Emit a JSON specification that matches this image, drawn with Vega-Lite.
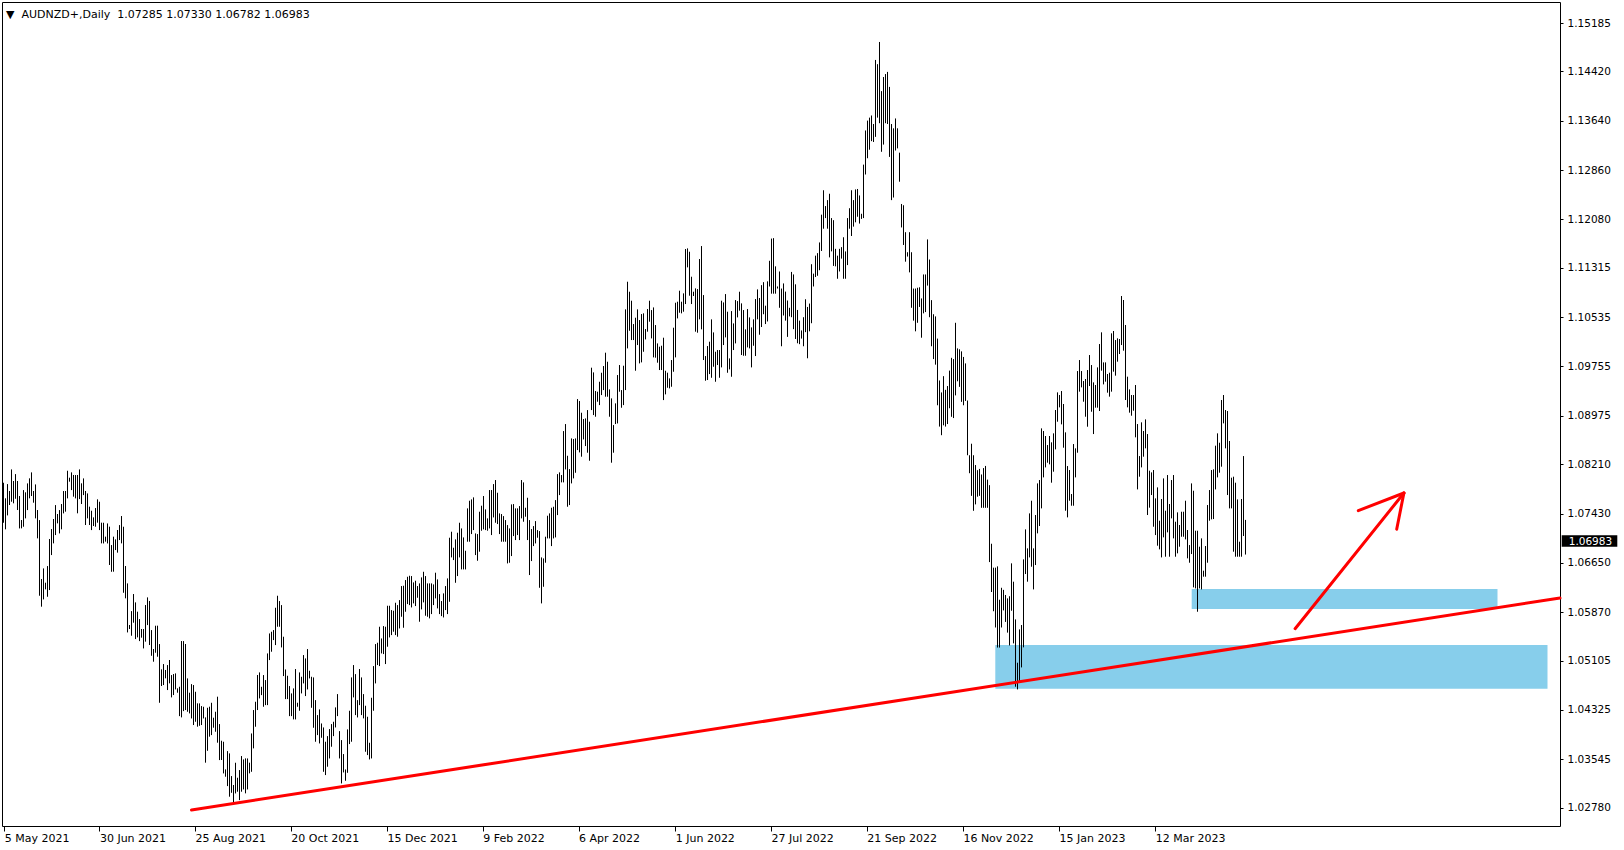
{
  "$schema": "https://vega.github.io/schema/vega-lite/v6.json",
  "width": 1558,
  "height": 824,
  "autosize": {"type": "none"},
  "padding": {"left": 2, "top": 2, "right": 64, "bottom": 24},
  "background": "#ffffff",
  "title": {"text": "▼\u00a0 AUDNZD+,Daily\u00a0 1.07285 1.07330 1.06782 1.06983", "anchor": "start", "frame": "group", "orient": "top", "offset": -27, "baseline": "alphabetic", "dx": 4, "fontSize": 11, "fontWeight": "normal", "font": "DejaVu Sans", "color": "#000000"},
  "config": {
    "view": {"stroke": "#000000", "strokeWidth": 1},
    "font": "DejaVu Sans",
    "axis": {"grid": false, "domain": false, "tickColor": "#000000", "labelColor": "#000000", "labelFont": "DejaVu Sans"}
  },
  "datasets": {
    "bars": [
      {"i":0,"h":1.07917,"l":1.07285},{"i":1,"h":1.07671,"l":1.07181},{"i":2,"h":1.07896,"l":1.07401},{"i":3,"h":1.07787,"l":1.07565},
      {"i":4,"h":1.08128,"l":1.07617},{"i":5,"h":1.07945,"l":1.07592},{"i":6,"h":1.08054,"l":1.07664},{"i":7,"h":1.07945,"l":1.07486},
      {"i":8,"h":1.07707,"l":1.07195},{"i":9,"h":1.07328,"l":1.07196},{"i":10,"h":1.07801,"l":1.07222},{"i":11,"h":1.07766,"l":1.07354},
      {"i":12,"h":1.07907,"l":1.07485},{"i":13,"h":1.07987,"l":1.07671},{"i":14,"h":1.08081,"l":1.07707},{"i":15,"h":1.07787,"l":1.07602},
      {"i":16,"h":1.07891,"l":1.07354},{"i":17,"h":1.07486,"l":1.07038},{"i":18,"h":1.07327,"l":1.06131},{"i":19,"h":1.06395,"l":1.05958},
      {"i":20,"h":1.06563,"l":1.06073},{"i":21,"h":1.06337,"l":1.06232},{"i":22,"h":1.06600,"l":1.06115},{"i":23,"h":1.07028,"l":1.06221},
      {"i":24,"h":1.07185,"l":1.06774},{"i":25,"h":1.07344,"l":1.06959},{"i":26,"h":1.07564,"l":1.07090},{"i":27,"h":1.07423,"l":1.07275},
      {"i":28,"h":1.07485,"l":1.07116},{"i":29,"h":1.07581,"l":1.07181},{"i":30,"h":1.07786,"l":1.07433},{"i":31,"h":1.07787,"l":1.07460},
      {"i":32,"h":1.08107,"l":1.07670},{"i":33,"h":1.07997,"l":1.07934},{"i":34,"h":1.08081,"l":1.07801},{"i":35,"h":1.08040,"l":1.07697},
      {"i":36,"h":1.08039,"l":1.07670},{"i":37,"h":1.08040,"l":1.07434},{"i":38,"h":1.08128,"l":1.07659},{"i":39,"h":1.07908,"l":1.07581},
      {"i":40,"h":1.07986,"l":1.07722},{"i":41,"h":1.07787,"l":1.07249},{"i":42,"h":1.07749,"l":1.07354},{"i":43,"h":1.07539,"l":1.07249},
      {"i":44,"h":1.07475,"l":1.07169},{"i":45,"h":1.07370,"l":1.07233},{"i":46,"h":1.07517,"l":1.07222},{"i":47,"h":1.07655,"l":1.07286},
      {"i":48,"h":1.07617,"l":1.07169},{"i":49,"h":1.07286,"l":1.06959},{"i":50,"h":1.07285,"l":1.06958},{"i":51,"h":1.07065,"l":1.06986},
      {"i":52,"h":1.07274,"l":1.06958},{"i":53,"h":1.07223,"l":1.06617},{"i":54,"h":1.06932,"l":1.06510},{"i":55,"h":1.07065,"l":1.06511},
      {"i":56,"h":1.07022,"l":1.06853},{"i":57,"h":1.07170,"l":1.06812},{"i":58,"h":1.07248,"l":1.07011},{"i":59,"h":1.07391,"l":1.06959},
      {"i":60,"h":1.07222,"l":1.06178},{"i":61,"h":1.06601,"l":1.06090},{"i":62,"h":1.06326,"l":1.05551},{"i":63,"h":1.05668,"l":1.05605},
      {"i":64,"h":1.05888,"l":1.05499},{"i":65,"h":1.06158,"l":1.05705},{"i":66,"h":1.06026,"l":1.05446},{"i":67,"h":1.05879,"l":1.05473},
      {"i":68,"h":1.05762,"l":1.05414},{"i":69,"h":1.05605,"l":1.05468},{"i":70,"h":1.05604,"l":1.05298},{"i":71,"h":1.05984,"l":1.05405},
      {"i":72,"h":1.06105,"l":1.05667},{"i":73,"h":1.06048,"l":1.05352},{"i":74,"h":1.05588,"l":1.05182},{"i":75,"h":1.05289,"l":1.05088},
      {"i":76,"h":1.05657,"l":1.05230},{"i":77,"h":1.05658,"l":1.05167},{"i":78,"h":1.05367,"l":1.04439},{"i":79,"h":1.04967,"l":1.04704},
      {"i":80,"h":1.05051,"l":1.04719},{"i":81,"h":1.04957,"l":1.04825},{"i":82,"h":1.05035,"l":1.04640},{"i":83,"h":1.05115,"l":1.04746},
      {"i":84,"h":1.04877,"l":1.04524},{"i":85,"h":1.04893,"l":1.04561},{"i":86,"h":1.04903,"l":1.04650},{"i":87,"h":1.04667,"l":1.04598},
      {"i":88,"h":1.04692,"l":1.04228},{"i":89,"h":1.05415,"l":1.04208},{"i":90,"h":1.05414,"l":1.04307},{"i":91,"h":1.05368,"l":1.04324},
      {"i":92,"h":1.04824,"l":1.04297},{"i":93,"h":1.04598,"l":1.04271},{"i":94,"h":1.04734,"l":1.04191},{"i":95,"h":1.04719,"l":1.04087},
      {"i":96,"h":1.04613,"l":1.04139},{"i":97,"h":1.04430,"l":1.04061},{"i":98,"h":1.04429,"l":1.04075},{"i":99,"h":1.04387,"l":1.04087},
      {"i":100,"h":1.04376,"l":1.04191},{"i":101,"h":1.04208,"l":1.03492},{"i":102,"h":1.04360,"l":1.03680},{"i":103,"h":1.04377,"l":1.03903},
      {"i":104,"h":1.04439,"l":1.03928},{"i":105,"h":1.04203,"l":1.04045},{"i":106,"h":1.04297,"l":1.03981},{"i":107,"h":1.04535,"l":1.03808},
      {"i":108,"h":1.04102,"l":1.03533},{"i":109,"h":1.03839,"l":1.03534},{"i":110,"h":1.03823,"l":1.03322},{"i":111,"h":1.03386,"l":1.03270},
      {"i":112,"h":1.03675,"l":1.03122},{"i":113,"h":1.03639,"l":1.02954},{"i":114,"h":1.03280,"l":1.03016},{"i":115,"h":1.03139,"l":1.02849},
      {"i":116,"h":1.03491,"l":1.03006},{"i":117,"h":1.03254,"l":1.03033},{"i":118,"h":1.03375,"l":1.02900},{"i":119,"h":1.03597,"l":1.03033},
      {"i":120,"h":1.03543,"l":1.03069},{"i":121,"h":1.03560,"l":1.03007},{"i":122,"h":1.03559,"l":1.03069},{"i":123,"h":1.03492,"l":1.03323},
      {"i":124,"h":1.03954,"l":1.03348},{"i":125,"h":1.04324,"l":1.03718},{"i":126,"h":1.04455,"l":1.04060},{"i":127,"h":1.04878,"l":1.04324},
      {"i":128,"h":1.04919,"l":1.04508},{"i":129,"h":1.04692,"l":1.04560},{"i":130,"h":1.04877,"l":1.04376},{"i":131,"h":1.04798,"l":1.04402},
      {"i":132,"h":1.05219,"l":1.04402},{"i":133,"h":1.05535,"l":1.05114},{"i":134,"h":1.05562,"l":1.05246},{"i":135,"h":1.05588,"l":1.05430},
      {"i":136,"h":1.05941,"l":1.05351},{"i":137,"h":1.06131,"l":1.05641},{"i":138,"h":1.06047,"l":1.05641},{"i":139,"h":1.05983,"l":1.05314},
      {"i":140,"h":1.05483,"l":1.04861},{"i":141,"h":1.04966,"l":1.04497},{"i":142,"h":1.04866,"l":1.04497},{"i":143,"h":1.04703,"l":1.04228},
      {"i":144,"h":1.04587,"l":1.04228},{"i":145,"h":1.04666,"l":1.04176},{"i":146,"h":1.04972,"l":1.04176},{"i":147,"h":1.04439,"l":1.04376},
      {"i":148,"h":1.04919,"l":1.04313},{"i":149,"h":1.04850,"l":1.04587},{"i":150,"h":1.05193,"l":1.04745},{"i":151,"h":1.05140,"l":1.04545},
      {"i":152,"h":1.05288,"l":1.04650},{"i":153,"h":1.04945,"l":1.04824},{"i":154,"h":1.04850,"l":1.04360},{"i":155,"h":1.04840,"l":1.04044},
      {"i":156,"h":1.04481,"l":1.03823},{"i":157,"h":1.04244,"l":1.03928},{"i":158,"h":1.04334,"l":1.03796},{"i":159,"h":1.04112,"l":1.03886},
      {"i":160,"h":1.04049,"l":1.03348},{"i":161,"h":1.03823,"l":1.03296},{"i":162,"h":1.03912,"l":1.03428},{"i":163,"h":1.04023,"l":1.03559},
      {"i":164,"h":1.04102,"l":1.03744},{"i":165,"h":1.04139,"l":1.03912},{"i":166,"h":1.04366,"l":1.04049},{"i":167,"h":1.04576,"l":1.04228},
      {"i":168,"h":1.03991,"l":1.03559},{"i":169,"h":1.03849,"l":1.03164},{"i":170,"h":1.03628,"l":1.03338},{"i":171,"h":1.03385,"l":1.03206},
      {"i":172,"h":1.04018,"l":1.03332},{"i":173,"h":1.04313,"l":1.03786},{"i":174,"h":1.04840,"l":1.03823},{"i":175,"h":1.05035,"l":1.04524},
      {"i":176,"h":1.04892,"l":1.04244},{"i":177,"h":1.04481,"l":1.04207},{"i":178,"h":1.04972,"l":1.04402},{"i":179,"h":1.04840,"l":1.04244},
      {"i":180,"h":1.04576,"l":1.04192},{"i":181,"h":1.04392,"l":1.03665},{"i":182,"h":1.04218,"l":1.03612},{"i":183,"h":1.03807,"l":1.03543},
      {"i":184,"h":1.04518,"l":1.03559},{"i":185,"h":1.05019,"l":1.04313},{"i":186,"h":1.05367,"l":1.04745},{"i":187,"h":1.05388,"l":1.05035},
      {"i":188,"h":1.05641,"l":1.05019},{"i":189,"h":1.05456,"l":1.05219},{"i":190,"h":1.05651,"l":1.05209},{"i":191,"h":1.05641,"l":1.05051},
      {"i":192,"h":1.05973,"l":1.05325},{"i":193,"h":1.05973,"l":1.05472},{"i":194,"h":1.05904,"l":1.05509},{"i":195,"h":1.05894,"l":1.05562},
      {"i":196,"h":1.06020,"l":1.05509},{"i":197,"h":1.05983,"l":1.05483},{"i":198,"h":1.06062,"l":1.05614},{"i":199,"h":1.06284,"l":1.05799},
      {"i":200,"h":1.06289,"l":1.05625},{"i":201,"h":1.06379,"l":1.05878},{"i":202,"h":1.06431,"l":1.05999},{"i":203,"h":1.06447,"l":1.05983},
      {"i":204,"h":1.06442,"l":1.05946},{"i":205,"h":1.06342,"l":1.06010},{"i":206,"h":1.06368,"l":1.05968},{"i":207,"h":1.06284,"l":1.06099},
      {"i":208,"h":1.06326,"l":1.05720},{"i":209,"h":1.06421,"l":1.05915},{"i":210,"h":1.06510,"l":1.06026},{"i":211,"h":1.06442,"l":1.05815},
      {"i":212,"h":1.06326,"l":1.05799},{"i":213,"h":1.06326,"l":1.05773},{"i":214,"h":1.06326,"l":1.05841},{"i":215,"h":1.06310,"l":1.05983},
      {"i":216,"h":1.06495,"l":1.06089},{"i":217,"h":1.06389,"l":1.05931},{"i":218,"h":1.06157,"l":1.05841},{"i":219,"h":1.06047,"l":1.05809},
      {"i":220,"h":1.06168,"l":1.05788},{"i":221,"h":1.06284,"l":1.05904},{"i":222,"h":1.06405,"l":1.05841},{"i":223,"h":1.07048,"l":1.06036},
      {"i":224,"h":1.07143,"l":1.06737},{"i":225,"h":1.06890,"l":1.06695},{"i":226,"h":1.07022,"l":1.06336},{"i":227,"h":1.07127,"l":1.06442},
      {"i":228,"h":1.07285,"l":1.06737},{"i":229,"h":1.07195,"l":1.06547},{"i":230,"h":1.07053,"l":1.06547},{"i":231,"h":1.06842,"l":1.06547},
      {"i":232,"h":1.07512,"l":1.06985},{"i":233,"h":1.07633,"l":1.06985},{"i":234,"h":1.07654,"l":1.07106},{"i":235,"h":1.07686,"l":1.07169},
      {"i":236,"h":1.07116,"l":1.06774},{"i":237,"h":1.07106,"l":1.06684},{"i":238,"h":1.07459,"l":1.06827},{"i":239,"h":1.07554,"l":1.07159},
      {"i":240,"h":1.07707,"l":1.07180},{"i":241,"h":1.07496,"l":1.07169},{"i":242,"h":1.07354,"l":1.07159},{"i":243,"h":1.07802,"l":1.07195},
      {"i":244,"h":1.07802,"l":1.07090},{"i":245,"h":1.07896,"l":1.07369},{"i":246,"h":1.07960,"l":1.07285},{"i":247,"h":1.07759,"l":1.07264},
      {"i":248,"h":1.07433,"l":1.07106},{"i":249,"h":1.07422,"l":1.06985},{"i":250,"h":1.07390,"l":1.06985},{"i":251,"h":1.07327,"l":1.06985},
      {"i":252,"h":1.07248,"l":1.06642},{"i":253,"h":1.07195,"l":1.06653},{"i":254,"h":1.07575,"l":1.06758},{"i":255,"h":1.07580,"l":1.07074},
      {"i":256,"h":1.07512,"l":1.07011},{"i":257,"h":1.07512,"l":1.07090},{"i":258,"h":1.07548,"l":1.07011},{"i":259,"h":1.07960,"l":1.07354},
      {"i":260,"h":1.07923,"l":1.07301},{"i":261,"h":1.07522,"l":1.07380},{"i":262,"h":1.07680,"l":1.07011},{"i":263,"h":1.07327,"l":1.06458},
      {"i":264,"h":1.07185,"l":1.06679},{"i":265,"h":1.07232,"l":1.06916},{"i":266,"h":1.07311,"l":1.06958},{"i":267,"h":1.07169,"l":1.07048},
      {"i":268,"h":1.07153,"l":1.06257},{"i":269,"h":1.06737,"l":1.06010},{"i":270,"h":1.06721,"l":1.06273},{"i":271,"h":1.07064,"l":1.06653},
      {"i":272,"h":1.07396,"l":1.07037},{"i":273,"h":1.07433,"l":1.07037},{"i":274,"h":1.07522,"l":1.06916},{"i":275,"h":1.07538,"l":1.07037},
      {"i":276,"h":1.07643,"l":1.07053},{"i":277,"h":1.08054,"l":1.07406},{"i":278,"h":1.08081,"l":1.07722},{"i":279,"h":1.08039,"l":1.07923},
      {"i":280,"h":1.08734,"l":1.07923},{"i":281,"h":1.08845,"l":1.08128},{"i":282,"h":1.08344,"l":1.07538},{"i":283,"h":1.08133,"l":1.07564},
      {"i":284,"h":1.08618,"l":1.07907},{"i":285,"h":1.08608,"l":1.07986},{"i":286,"h":1.08618,"l":1.08075},{"i":287,"h":1.09240,"l":1.08434},
      {"i":288,"h":1.09209,"l":1.08397},{"i":289,"h":1.09024,"l":1.08329},{"i":290,"h":1.08924,"l":1.08602},{"i":291,"h":1.08934,"l":1.08497},
      {"i":292,"h":1.09066,"l":1.08392},{"i":293,"h":1.08882,"l":1.08265},{"i":294,"h":1.09736,"l":1.09066},{"i":295,"h":1.09662,"l":1.08987},
      {"i":296,"h":1.09367,"l":1.08961},{"i":297,"h":1.09356,"l":1.09198},{"i":298,"h":1.09514,"l":1.09145},{"i":299,"h":1.09656,"l":1.09303},
      {"i":300,"h":1.09762,"l":1.09382},{"i":301,"h":1.09973,"l":1.09277},{"i":302,"h":1.09830,"l":1.09277},{"i":303,"h":1.09393,"l":1.08961},
      {"i":304,"h":1.09251,"l":1.08234},{"i":305,"h":1.08829,"l":1.08392},{"i":306,"h":1.09172,"l":1.08845},{"i":307,"h":1.09620,"l":1.08855},
      {"i":308,"h":1.09778,"l":1.09356},{"i":309,"h":1.09382,"l":1.09103},{"i":310,"h":1.09767,"l":1.09145},{"i":311,"h":1.10658,"l":1.09382},
      {"i":312,"h":1.11095,"l":1.10041},{"i":313,"h":1.10937,"l":1.10320},{"i":314,"h":1.10795,"l":1.10173},{"i":315,"h":1.10426,"l":1.10173},
      {"i":316,"h":1.10526,"l":1.09688},{"i":317,"h":1.10658,"l":1.10094},{"i":318,"h":1.10489,"l":1.09804},{"i":319,"h":1.10584,"l":1.09820},
      {"i":320,"h":1.10595,"l":1.09988},{"i":321,"h":1.10347,"l":1.10183},{"i":322,"h":1.10663,"l":1.10305},{"i":323,"h":1.10795,"l":1.10463},
      {"i":324,"h":1.10647,"l":1.10199},{"i":325,"h":1.10689,"l":1.09899},{"i":326,"h":1.10410,"l":1.09894},{"i":327,"h":1.10120,"l":1.09815},
      {"i":328,"h":1.10068,"l":1.09699},{"i":329,"h":1.10083,"l":1.09699},{"i":330,"h":1.10210,"l":1.09224},{"i":331,"h":1.09688,"l":1.09314},
      {"i":332,"h":1.09657,"l":1.09419},{"i":333,"h":1.09567,"l":1.09409},{"i":334,"h":1.09857,"l":1.09435},{"i":335,"h":1.10368,"l":1.09672},
      {"i":336,"h":1.10763,"l":1.09899},{"i":337,"h":1.10779,"l":1.10515},{"i":338,"h":1.10953,"l":1.10605},{"i":339,"h":1.10779,"l":1.10595},
      {"i":340,"h":1.10911,"l":1.10621},{"i":341,"h":1.11612,"l":1.10742},{"i":342,"h":1.11622,"l":1.11322},{"i":343,"h":1.11569,"l":1.10874},
      {"i":344,"h":1.11174,"l":1.10742},{"i":345,"h":1.10937,"l":1.10869},{"i":346,"h":1.10990,"l":1.10305},{"i":347,"h":1.10979,"l":1.10289},
      {"i":348,"h":1.11454,"l":1.10500},{"i":349,"h":1.11659,"l":1.10342},{"i":350,"h":1.10884,"l":1.09857},{"i":351,"h":1.09920,"l":1.09530},
      {"i":352,"h":1.10078,"l":1.09541},{"i":353,"h":1.10147,"l":1.09635},{"i":354,"h":1.10500,"l":1.09577},{"i":355,"h":1.10294,"l":1.09751},
      {"i":356,"h":1.09988,"l":1.09514},{"i":357,"h":1.10015,"l":1.09778},{"i":358,"h":1.10015,"l":1.09577},{"i":359,"h":1.10795,"l":1.09741},
      {"i":360,"h":1.10768,"l":1.10094},{"i":361,"h":1.10900,"l":1.10215},{"i":362,"h":1.10621,"l":1.09656},{"i":363,"h":1.09883,"l":1.09709},
      {"i":364,"h":1.10631,"l":1.09593},{"i":365,"h":1.10436,"l":1.10015},{"i":366,"h":1.10805,"l":1.10120},{"i":367,"h":1.10789,"l":1.10531},
      {"i":368,"h":1.10937,"l":1.10637},{"i":369,"h":1.10753,"l":1.09936},{"i":370,"h":1.10647,"l":1.09925},{"i":371,"h":1.10342,"l":1.09925},
      {"i":372,"h":1.10663,"l":1.10057},{"i":373,"h":1.10531,"l":1.10041},{"i":374,"h":1.10373,"l":1.09741},{"i":375,"h":1.10500,"l":1.10083},
      {"i":376,"h":1.10821,"l":1.09920},{"i":377,"h":1.10974,"l":1.10500},{"i":378,"h":1.10838,"l":1.10257},{"i":379,"h":1.11041,"l":1.10379},
      {"i":380,"h":1.11088,"l":1.10581},{"i":381,"h":1.10716,"l":1.10426},{"i":382,"h":1.11101,"l":1.10467},{"i":383,"h":1.11426,"l":1.11020},
      {"i":384,"h":1.11777,"l":1.10906},{"i":385,"h":1.11784,"l":1.10906},{"i":386,"h":1.11338,"l":1.10906},{"i":387,"h":1.11020,"l":1.10987},
      {"i":388,"h":1.11257,"l":1.10683},{"i":389,"h":1.10987,"l":1.10075},{"i":390,"h":1.11068,"l":1.10561},{"i":391,"h":1.10939,"l":1.10480},
      {"i":392,"h":1.10798,"l":1.10223},{"i":393,"h":1.10683,"l":1.10547},{"i":394,"h":1.11250,"l":1.10534},{"i":395,"h":1.11210,"l":1.10345},
      {"i":396,"h":1.11054,"l":1.10190},{"i":397,"h":1.10649,"l":1.10122},{"i":398,"h":1.10480,"l":1.10108},{"i":399,"h":1.10325,"l":1.10196},
      {"i":400,"h":1.10534,"l":1.10075},{"i":401,"h":1.10818,"l":1.10298},{"i":402,"h":1.10696,"l":1.09885},{"i":403,"h":1.10750,"l":1.10311},
      {"i":404,"h":1.11372,"l":1.10439},{"i":405,"h":1.11223,"l":1.11020},{"i":406,"h":1.11507,"l":1.11169},{"i":407,"h":1.11547,"l":1.11189},
      {"i":408,"h":1.11716,"l":1.11277},{"i":409,"h":1.12155,"l":1.11581},{"i":410,"h":1.12541,"l":1.11933},{"i":411,"h":1.12291,"l":1.12101},
      {"i":412,"h":1.12385,"l":1.11933},{"i":413,"h":1.12486,"l":1.11480},{"i":414,"h":1.12101,"l":1.11575},{"i":415,"h":1.12068,"l":1.11345},
      {"i":416,"h":1.11615,"l":1.11338},{"i":417,"h":1.11507,"l":1.11142},{"i":418,"h":1.11615,"l":1.11257},{"i":419,"h":1.11642,"l":1.11460},
      {"i":420,"h":1.11798,"l":1.11142},{"i":421,"h":1.11574,"l":1.11142},{"i":422,"h":1.12101,"l":1.11358},{"i":423,"h":1.12257,"l":1.11933},
      {"i":424,"h":1.12541,"l":1.11818},{"i":425,"h":1.12385,"l":1.11966},{"i":426,"h":1.12554,"l":1.12034},{"i":427,"h":1.12561,"l":1.12122},
      {"i":428,"h":1.12459,"l":1.12014},{"i":429,"h":1.12169,"l":1.12088},{"i":430,"h":1.12946,"l":1.12101},{"i":431,"h":1.13486,"l":1.12790},
      {"i":432,"h":1.13642,"l":1.13047},{"i":433,"h":1.13689,"l":1.13182},{"i":434,"h":1.13723,"l":1.13317},{"i":435,"h":1.13588,"l":1.13304},
      {"i":436,"h":1.14601,"l":1.13385},{"i":437,"h":1.14534,"l":1.13689},{"i":438,"h":1.14885,"l":1.13601},{"i":439,"h":1.14108,"l":1.13149},
      {"i":440,"h":1.14331,"l":1.13263},{"i":441,"h":1.14378,"l":1.13601},{"i":442,"h":1.14412,"l":1.13588},{"i":443,"h":1.14175,"l":1.13068},
      {"i":444,"h":1.13588,"l":1.12385},{"i":445,"h":1.13520,"l":1.12426},{"i":446,"h":1.13676,"l":1.13169},{"i":447,"h":1.13520,"l":1.13203},
      {"i":448,"h":1.13135,"l":1.12676},{"i":449,"h":1.12324,"l":1.11953},{"i":450,"h":1.12304,"l":1.11676},{"i":451,"h":1.11878,"l":1.11412},
      {"i":452,"h":1.11561,"l":1.11493},{"i":453,"h":1.11878,"l":1.11243},{"i":454,"h":1.11561,"l":1.10683},{"i":455,"h":1.10987,"l":1.10480},
      {"i":456,"h":1.10987,"l":1.10311},{"i":457,"h":1.11000,"l":1.10446},{"i":458,"h":1.11007,"l":1.10696},{"i":459,"h":1.10831,"l":1.10210},
      {"i":460,"h":1.11210,"l":1.10595},{"i":461,"h":1.11210,"l":1.10615},{"i":462,"h":1.11764,"l":1.11034},{"i":463,"h":1.11446,"l":1.10534},
      {"i":464,"h":1.10804,"l":1.10075},{"i":465,"h":1.10581,"l":1.09872},{"i":466,"h":1.10547,"l":1.09784},{"i":467,"h":1.10196,"l":1.09142},
      {"i":468,"h":1.09534,"l":1.08805},{"i":469,"h":1.09345,"l":1.08669},{"i":470,"h":1.09602,"l":1.08825},{"i":471,"h":1.09386,"l":1.08805},
      {"i":472,"h":1.09446,"l":1.08845},{"i":473,"h":1.09690,"l":1.09095},{"i":474,"h":1.09892,"l":1.08960},{"i":475,"h":1.09872,"l":1.08940},
      {"i":476,"h":1.10446,"l":1.09298},{"i":477,"h":1.10041,"l":1.09521},{"i":478,"h":1.10027,"l":1.09433},{"i":479,"h":1.09994,"l":1.09196},
      {"i":480,"h":1.09906,"l":1.09142},{"i":481,"h":1.09804,"l":1.09210},{"i":482,"h":1.09217,"l":1.08352},{"i":483,"h":1.08352,"l":1.08068},
      {"i":484,"h":1.08534,"l":1.07710},{"i":485,"h":1.08352,"l":1.07474},{"i":486,"h":1.08197,"l":1.07575},{"i":487,"h":1.08116,"l":1.07697},
      {"i":488,"h":1.08136,"l":1.07710},{"i":489,"h":1.08048,"l":1.07521},{"i":490,"h":1.08149,"l":1.07521},{"i":491,"h":1.08183,"l":1.07521},
      {"i":492,"h":1.07967,"l":1.07521},{"i":493,"h":1.07879,"l":1.06663},{"i":494,"h":1.06953,"l":1.06190},{"i":495,"h":1.06575,"l":1.05886},
      {"i":496,"h":1.06575,"l":1.05629},{"i":497,"h":1.06595,"l":1.05312},{"i":498,"h":1.06068,"l":1.05312},{"i":499,"h":1.06257,"l":1.05629},
      {"i":500,"h":1.06224,"l":1.05899},{"i":501,"h":1.06143,"l":1.05717},{"i":502,"h":1.06089,"l":1.05548},{"i":503,"h":1.06123,"l":1.05345},
      {"i":504,"h":1.06643,"l":1.05894},{"i":505,"h":1.06353,"l":1.05378},{"i":506,"h":1.05757,"l":1.04693},{"i":507,"h":1.05072,"l":1.04650},
      {"i":508,"h":1.05599,"l":1.04772},{"i":509,"h":1.05668,"l":1.04998},{"i":510,"h":1.06706,"l":1.05315},{"i":511,"h":1.07180,"l":1.06474},
      {"i":512,"h":1.06880,"l":1.06353},{"i":513,"h":1.07433,"l":1.06737},{"i":514,"h":1.07633,"l":1.06590},{"i":515,"h":1.06880,"l":1.06231},
      {"i":516,"h":1.07407,"l":1.06616},{"i":517,"h":1.07907,"l":1.07117},{"i":518,"h":1.07960,"l":1.07233},{"i":519,"h":1.08777,"l":1.07512},
      {"i":520,"h":1.08735,"l":1.08002},{"i":521,"h":1.08656,"l":1.08160},{"i":522,"h":1.08513,"l":1.08234},{"i":523,"h":1.08656,"l":1.08208},
      {"i":524,"h":1.08556,"l":1.07918},{"i":525,"h":1.08698,"l":1.08092},{"i":526,"h":1.09067,"l":1.08445},{"i":527,"h":1.09346,"l":1.08882},
      {"i":528,"h":1.09304,"l":1.09109},{"i":529,"h":1.09367,"l":1.08840},{"i":530,"h":1.09162,"l":1.08471},{"i":531,"h":1.08714,"l":1.07475},
      {"i":532,"h":1.08181,"l":1.07370},{"i":533,"h":1.08118,"l":1.07633},{"i":534,"h":1.07739,"l":1.07554},{"i":535,"h":1.08529,"l":1.07554},
      {"i":536,"h":1.08461,"l":1.08002},{"i":537,"h":1.09683,"l":1.08392},{"i":538,"h":1.09857,"l":1.09357},{"i":539,"h":1.09683,"l":1.09425},
      {"i":540,"h":1.09525,"l":1.09198},{"i":541,"h":1.09557,"l":1.08961},{"i":542,"h":1.09699,"l":1.08803},{"i":543,"h":1.09936,"l":1.09446},
      {"i":544,"h":1.09778,"l":1.09040},{"i":545,"h":1.09504,"l":1.08687},{"i":546,"h":1.09462,"l":1.09104},{"i":547,"h":1.09741,"l":1.09104},
      {"i":548,"h":1.10110,"l":1.09051},{"i":549,"h":1.10295,"l":1.09689},{"i":550,"h":1.09820,"l":1.09472},{"i":551,"h":1.09820,"l":1.09515},
      {"i":552,"h":1.09636,"l":1.09341},{"i":553,"h":1.09657,"l":1.09278},{"i":554,"h":1.10279,"l":1.09357},{"i":555,"h":1.10316,"l":1.09673},
      {"i":556,"h":1.10173,"l":1.09610},{"i":557,"h":1.10200,"l":1.09831},{"i":558,"h":1.10189,"l":1.09952},{"i":559,"h":1.10869,"l":1.10094},
      {"i":560,"h":1.10806,"l":1.10005},{"i":561,"h":1.10411,"l":1.09225},{"i":562,"h":1.09594,"l":1.09109},{"i":563,"h":1.09393,"l":1.09025},
      {"i":564,"h":1.09304,"l":1.08977},{"i":565,"h":1.09304,"l":1.09056},{"i":566,"h":1.09462,"l":1.08635},{"i":567,"h":1.08845,"l":1.07812},
      {"i":568,"h":1.08339,"l":1.08013},{"i":569,"h":1.08872,"l":1.08160},{"i":570,"h":1.08735,"l":1.08329},{"i":571,"h":1.08919,"l":1.08461},
      {"i":572,"h":1.08687,"l":1.07407},{"i":573,"h":1.08108,"l":1.07523},{"i":574,"h":1.08081,"l":1.07723},{"i":575,"h":1.08118,"l":1.07222},
      {"i":576,"h":1.07670,"l":1.07090},{"i":577,"h":1.07844,"l":1.06922},{"i":578,"h":1.07317,"l":1.06864},{"i":579,"h":1.07660,"l":1.06737},
      {"i":580,"h":1.07986,"l":1.07054},{"i":581,"h":1.07475,"l":1.06748},{"i":582,"h":1.08039,"l":1.07133},{"i":583,"h":1.07581,"l":1.06748},
      {"i":584,"h":1.07960,"l":1.07354},{"i":585,"h":1.08039,"l":1.07038},{"i":586,"h":1.07301,"l":1.06748},{"i":587,"h":1.07449,"l":1.06801},
      {"i":588,"h":1.07249,"l":1.06906},{"i":589,"h":1.07459,"l":1.07064},{"i":590,"h":1.07459,"l":1.07064},{"i":591,"h":1.07633,"l":1.07022},
      {"i":592,"h":1.07170,"l":1.06722},{"i":593,"h":1.06932,"l":1.06653},{"i":594,"h":1.07907,"l":1.06790},{"i":595,"h":1.07791,"l":1.06263},
      {"i":596,"h":1.07159,"l":1.06247},{"i":597,"h":1.07159,"l":1.05878},{"i":598,"h":1.06906,"l":1.06247},{"i":599,"h":1.07038,"l":1.06231},
      {"i":600,"h":1.06527,"l":1.06432},{"i":601,"h":1.06917,"l":1.06432},{"i":602,"h":1.07565,"l":1.06653},{"i":603,"h":1.07802,"l":1.07317},
      {"i":604,"h":1.08118,"l":1.07338},{"i":605,"h":1.08129,"l":1.07343},{"i":606,"h":1.08503,"l":1.07812},{"i":607,"h":1.08698,"l":1.08002},
      {"i":608,"h":1.08550,"l":1.08076},{"i":609,"h":1.09225,"l":1.08171},{"i":610,"h":1.09304,"l":1.08856},{"i":611,"h":1.09067,"l":1.08461},
      {"i":612,"h":1.09051,"l":1.07723},{"i":613,"h":1.08577,"l":1.07512},{"i":614,"h":1.07997,"l":1.07512},{"i":615,"h":1.08013,"l":1.06827},
      {"i":616,"h":1.07918,"l":1.06748},{"i":617,"h":1.07654,"l":1.06748},{"i":618,"h":1.06985,"l":1.06748},{"i":619,"h":1.07660,"l":1.06748},
      {"i":620,"h":1.08339,"l":1.07075},{"i":621,"h":1.07330,"l":1.06782}
    ]
  },
  "layer": [
    {
      "data": {"values": [
        {"x": 495.9, "x2": 772, "y": 1.05352, "y2": 1.04661},
        {"x": 594.1, "x2": 747, "y": 1.06237, "y2": 1.05921}
      ]},
      "mark": {"type": "rect", "color": "#87CEEB"},
      "encoding": {
        "x": {"field": "x", "type": "quantitative", "title": null, "scale": {"domain": [-0.75, 778.25], "nice": false, "zero": false}},
        "x2": {"field": "x2"},
        "y": {"field": "y", "type": "quantitative", "title": null, "scale": {"domain": [1.02491, 1.15517], "nice": false, "zero": false}},
        "y2": {"field": "y2"}
      }
    },
    {
      "data": {"name": "bars"},
      "mark": {"type": "rule", "color": "#000000", "strokeWidth": 1},
      "encoding": {
        "x": {"field": "i", "type": "quantitative", "title": null, "scale": {"domain": [-0.75, 778.25], "nice": false, "zero": false},
          "axis": {"orient": "bottom", "values": [0.35, 47.95, 95.8, 143.65, 191.75, 239.6, 287.5, 335.85, 383.75, 431.6, 479.7, 527.8, 575.85], "labelExpr": "['5 May 2021','30 Jun 2021','25 Aug 2021','20 Oct 2021','15 Dec 2021','9 Feb 2022','6 Apr 2022','1 Jun 2022','27 Jul 2022','21 Sep 2022','16 Nov 2022','15 Jan 2023','12 Mar 2023'][round(datum.value/48)]", "labelAlign": "left", "labelBaseline": "top", "labelPadding": 1, "tickSize": 5, "labelFontSize": 11, "labelFlush": false, "labelOverlap": false, "title": null}},
        "y": {"field": "h", "type": "quantitative", "title": null, "scale": {"domain": [1.02491, 1.15517], "nice": false, "zero": false},
          "axis": {"orient": "right", "values": [1.15185, 1.14420, 1.13640, 1.12860, 1.12080, 1.11315, 1.10535, 1.09755, 1.08975, 1.08210, 1.07430, 1.06650, 1.05870, 1.05105, 1.04325, 1.03545, 1.02780], "format": ".5f", "tickSize": 3, "labelPadding": 4, "labelFontSize": 10.5, "labelBaseline": "middle", "labelFlush": false, "labelOverlap": false, "title": null}},
        "y2": {"field": "l"}
      }
    },
    {
      "data": {"values": [
        {"x": 94, "y": 1.02744, "x2": 778.25, "y2": 1.06095},
        {"x": 645.8, "y": 1.05610, "x2": 700.2, "y2": 1.07755},
        {"x": 700.2, "y": 1.07755, "x2": 677.4, "y2": 1.07477},
        {"x": 700.2, "y": 1.07755, "x2": 696.6, "y2": 1.07183}
      ]},
      "mark": {"type": "rule", "color": "#FF0000", "strokeWidth": 3, "strokeCap": "round"},
      "encoding": {
        "x": {"field": "x", "type": "quantitative", "title": null},
        "x2": {"field": "x2"},
        "y": {"field": "y", "type": "quantitative", "title": null},
        "y2": {"field": "y2"}
      }
    },
    {
      "data": {"values": [{"p": 1.06983}]},
      "mark": {"type": "rect", "color": "#000000"},
      "encoding": {
        "x": {"datum": 779.1, "type": "quantitative", "title": null},
        "x2": {"datum": 806.9},
        "y": {"datum": 1.07087, "type": "quantitative", "title": null},
        "y2": {"datum": 1.06907}
      }
    },
    {
      "data": {"values": [{"p": 1.06983}]},
      "mark": {"type": "text", "color": "#FFFFFF", "align": "left", "baseline": "middle", "fontSize": 10.5, "font": "DejaVu Sans"},
      "encoding": {
        "x": {"datum": 782.6, "type": "quantitative", "title": null},
        "y": {"field": "p", "type": "quantitative", "title": null},
        "text": {"field": "p", "type": "quantitative", "format": ".5f"}
      }
    }
  ]
}
